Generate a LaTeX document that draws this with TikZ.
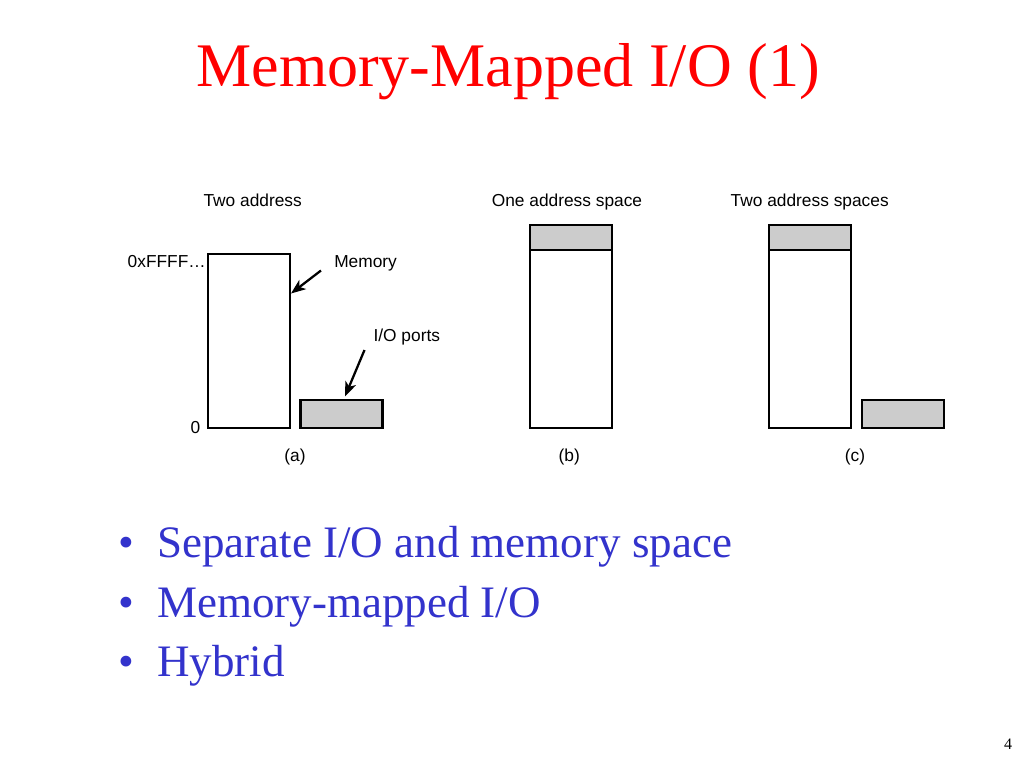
\documentclass[tikz,border=0pt]{standalone}
\usepackage{fontspec}
\setmainfont{Liberation Serif}
\newfontfamily\arialfont{Liberation Sans}
\usetikzlibrary{arrows.meta}
\definecolor{titlered}{RGB}{255,0,0}
\definecolor{bulletblue}{RGB}{51,51,204}
\definecolor{portgray}{RGB}{204,204,204}
\begin{document}
\begin{tikzpicture}[x=0.75pt,y=-0.75pt,
  box/.style={draw=black, line width=1.6pt, fill=white, inner sep=0pt, outer sep=0pt},
  graybox/.style={box, fill=portgray},
  lbl/.style={font=\arialfont\fontsize{13}{15}\selectfont, inner sep=0pt, anchor=base},
  title/.style={font=\fontsize{46.5}{50}\selectfont, text=titlered, inner sep=0pt, anchor=base},
  bullettext/.style={font=\fontsize{33.75}{38}\selectfont, text=bulletblue, inner sep=0pt, anchor=base west},
  bulletdot/.style={font=\fontsize{33.75}{38}\selectfont, text=bulletblue, inner sep=0pt, anchor=base},
  pointer/.style={line width=1.7pt, -{Stealth[length=11pt,width=8.5pt,inset=3pt]}}
]
\fill[white] (0,0) rectangle (1024,768);
\useasboundingbox (0,0) rectangle (1024,768);

% title
\node[title] (ttl) at (508,86) {Memory-Mapped I/O (1)};

% (a)
\node[lbl] (hdrA) at (252.7,206) {Two address};
\node[box, minimum width=82*0.75pt, minimum height=174*0.75pt] (memA) at (249.3,341.2) {};
\node[graybox, minimum width=82*0.75pt, minimum height=28.5*0.75pt] (ioA) at (341.5,414) {};
\node[lbl, anchor=base east] (top) at (206,267) {0xFFFF…};
\node[lbl, anchor=base east] (zero) at (200.5,433) {0};
\node[lbl, anchor=base west] (memlbl) at (334,267) {Memory};
\node[lbl, anchor=base west] (iolbl) at (373.3,341.7) {I/O ports};
\node[lbl] (capA) at (295,461) {(a)};
\coordinate (memtail) at (321,270.5);
\coordinate (memtip) at (291,293.5);
\coordinate (iotail) at (364.5,350);
\coordinate (iotip) at (345,396.5);
\draw[pointer] (memtail) -- (memtip);
\draw[pointer] (iotail) -- (iotip);

% (b)
\node[lbl] (hdrB) at (567,206) {One address space};
\node[box, minimum width=82*0.75pt, minimum height=178*0.75pt] (memB) at (570.7,339.3) {};
\node[graybox, minimum width=82*0.75pt, minimum height=25.3*0.75pt] (ioB) at (570.7,237.7) {};
\node[lbl] (capB) at (569.3,461) {(b)};

% (c)
\node[lbl] (hdrC) at (809.7,206) {Two address spaces};
\node[box, minimum width=82*0.75pt, minimum height=178*0.75pt] (memC) at (810,339.3) {};
\node[graybox, minimum width=82*0.75pt, minimum height=25.3*0.75pt] (ioC) at (810,237.7) {};
\node[graybox, minimum width=82*0.75pt, minimum height=28.5*0.75pt] (ioC2) at (902.7,414) {};
\node[lbl] (capC) at (855,461) {(c)};

% bullets
\node[bulletdot] (d1) at (126,557) {•};
\node[bullettext] (b1) at (157,557) {Separate I/O and memory space};
\node[bulletdot] (d2) at (126,617) {•};
\node[bullettext] (b2) at (157,617) {Memory-mapped I/O};
\node[bulletdot] (d3) at (126,676) {•};
\node[bullettext] (b3) at (157,676) {Hybrid};

% page number
\node[font=\fontsize{12}{14}\selectfont, inner sep=0pt, anchor=base] (pg) at (1008,749) {4};
\end{tikzpicture}
\end{document}
